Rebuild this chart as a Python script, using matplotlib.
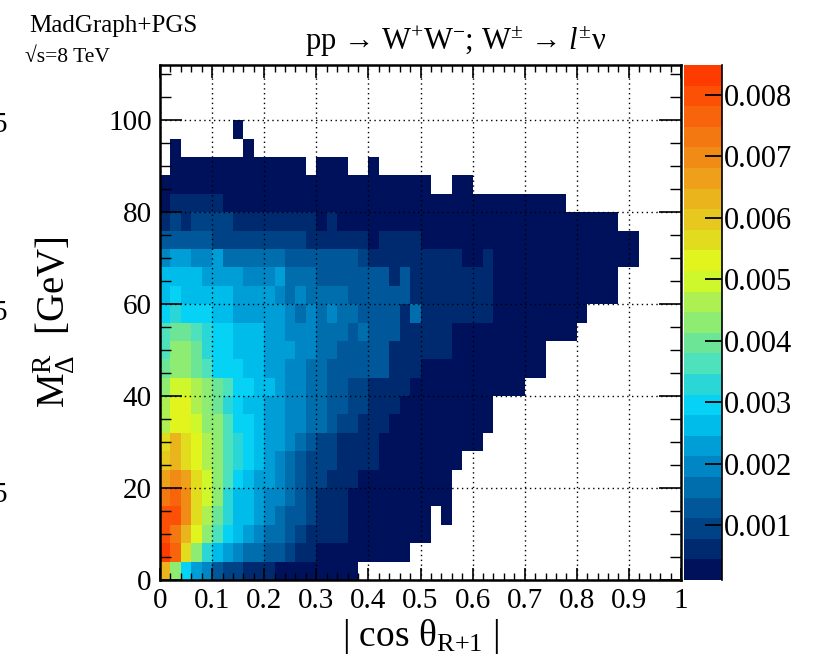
import numpy as np
import matplotlib
matplotlib.use("Agg")
import matplotlib.pyplot as plt
from matplotlib.colors import ListedColormap, BoundaryNorm
from matplotlib.ticker import MultipleLocator

plt.rcParams['font.family'] = ['Liberation Serif', 'DejaVu Serif']
plt.rcParams['mathtext.fontset'] = 'custom'
plt.rcParams['mathtext.rm'] = 'Liberation Serif'
plt.rcParams['mathtext.it'] = 'Liberation Serif:italic'
plt.rcParams['mathtext.bf'] = 'Liberation Serif:bold'

# binning: |cos theta| in 0.02 steps, M_Delta^R in 4 GeV steps
x_edges = np.linspace(0.0, 1.0, 51)
y_edges = np.arange(0, 113, 4)

# normalised bin contents in units of 1e-4, one list per M bin (lowest first)
# 0 = empty bin
row_00 = [63, 43, 30, 23, 20, 13, 9, 9, 6, 6, 6, 3, 3, 3, 3, 3, 3, 3, 3]
row_04 = [83, 77, 56, 43, 33, 26, 23, 20, 16, 16, 13, 13, 9, 6, 6, 3, 3, 3, 3, 3, 3, 3, 3, 3]
row_08 = [80, 73, 63, 53, 43, 36, 30, 26, 23, 20, 16, 16, 13, 9, 6, 6, 6, 6, 3, 3, 3, 3, 3, 3, 3, 3]
row_12 = [80, 80, 70, 56, 46, 40, 33, 26, 26, 23, 20, 16, 13, 13, 9, 6, 6, 6, 3, 3, 3, 3, 3, 3, 3, 3,
          0, 3]
row_16 = [73, 77, 70, 56, 50, 43, 33, 26, 26, 23, 20, 20, 16, 13, 9, 6, 6, 6, 3, 3, 3, 3, 3, 3, 3, 3,
          3, 3]
row_20 = [66, 70, 66, 56, 50, 43, 36, 30, 26, 23, 23, 20, 16, 13, 9, 9, 6, 6, 6, 3, 3, 3, 3, 3, 3, 3,
          3, 3]
row_24 = [60, 63, 56, 53, 46, 43, 36, 33, 30, 26, 23, 20, 16, 13, 9, 9, 9, 6, 6, 6, 6, 3, 3, 3, 3, 3,
          3, 3, 3]
row_28 = [56, 63, 56, 53, 46, 43, 36, 33, 30, 26, 23, 23, 20, 16, 13, 9, 9, 6, 6, 6, 6, 3, 3, 3, 3, 3,
          3, 3, 3, 3, 3]
row_32 = [46, 53, 53, 50, 43, 43, 36, 30, 30, 26, 23, 23, 20, 20, 16, 16, 13, 9, 9, 6, 6, 6, 3, 3, 3,
          3, 3, 3, 3, 3, 3, 3]
row_36 = [46, 53, 53, 46, 43, 40, 33, 30, 26, 26, 23, 23, 20, 20, 16, 16, 13, 13, 9, 9, 6, 6, 6, 3, 3,
          3, 3, 3, 3, 3, 3, 3]
row_40 = [43, 50, 50, 46, 43, 40, 36, 30, 30, 26, 26, 23, 20, 20, 16, 16, 13, 13, 9, 9, 6, 6, 6, 6, 3,
          3, 3, 3, 3, 3, 3, 3, 3, 3, 3]
row_44 = [40, 43, 43, 40, 36, 30, 30, 30, 26, 26, 23, 23, 20, 20, 16, 16, 13, 13, 13, 13, 13, 13, 6, 6,
          6, 3, 3, 3, 3, 3, 3, 3, 3, 3, 3, 3, 3]
row_48 = [36, 43, 43, 40, 33, 30, 30, 26, 26, 26, 23, 23, 23, 20, 20, 16, 16, 13, 13, 13, 13, 13, 6, 6,
          6, 6, 6, 6, 3, 3, 3, 3, 3, 3, 3, 3, 3]
row_52 = [36, 40, 40, 36, 33, 30, 30, 26, 26, 26, 23, 23, 20, 20, 20, 16, 16, 16, 13, 16, 13, 13, 13, 6,
          6, 6, 6, 6, 3, 3, 3, 3, 3, 3, 3, 3, 3, 3, 3, 3]
row_56 = [30, 33, 30, 30, 30, 26, 26, 23, 23, 23, 23, 23, 20, 16, 20, 16, 20, 16, 16, 13, 13, 13, 13, 6,
          16, 6, 6, 6, 6, 6, 6, 6, 3, 3, 3, 3, 3, 3, 3, 3, 3]
row_60 = [26, 30, 26, 26, 26, 26, 26, 23, 23, 23, 23, 20, 16, 20, 16, 16, 16, 16, 13, 13, 13, 13, 13, 13,
          6, 6, 6, 6, 6, 6, 6, 6, 3, 3, 3, 3, 3, 3, 3, 3, 3, 3, 3, 3]
row_64 = [26, 26, 26, 26, 23, 23, 23, 23, 20, 20, 20, 23, 16, 16, 16, 13, 13, 13, 13, 13, 13, 13, 6, 13,
          6, 6, 6, 6, 6, 6, 6, 6, 3, 3, 3, 3, 3, 3, 3, 3, 3, 3, 3, 3]
row_68 = [20, 23, 23, 20, 20, 23, 16, 16, 16, 16, 16, 16, 13, 13, 13, 13, 13, 13, 13, 9, 6, 6, 6, 6,
          6, 6, 6, 6, 6, 3, 3, 6, 3, 3, 3, 3, 3, 3, 3, 3, 3, 3, 3, 3, 3, 3]
row_72 = [13, 13, 13, 13, 13, 9, 9, 9, 9, 9, 9, 9, 9, 9, 6, 6, 6, 6, 6, 6, 3, 6, 6, 6, 6, 3, 3, 3, 3,
          3, 3, 3, 3, 3, 3, 3, 3, 3, 3, 3, 3, 3, 3, 3, 3, 3]
row_76 = [6, 9, 6, 9, 9, 9, 9, 6, 6, 6, 6, 6, 6, 6, 6, 3, 6, 3, 3, 3, 3, 3, 3, 3, 3, 3, 3, 3, 3, 3,
          3, 3, 3, 3, 3, 3, 3, 3, 3, 3, 3, 3, 3, 3]
row_80 = [3, 6, 6, 6, 6, 6, 3, 3, 3, 3, 3, 3, 3, 3, 3, 3, 3, 3, 3, 3, 3, 3, 3, 3, 3, 3, 3, 3, 3, 3,
          3, 3, 3, 3, 3, 3, 3, 3, 3]
row_84 = [3, 3, 3, 3, 3, 3, 3, 3, 3, 3, 3, 3, 3, 3, 3, 3, 3, 3, 3, 3, 3, 3, 3, 3, 3, 3, 0, 0, 3, 3]
row_88 = [0, 3, 3, 3, 3, 3, 3, 3, 3, 3, 3, 3, 3, 3, 0, 3, 3, 3, 0, 0, 3]
row_92 = [0, 3, 0, 0, 0, 0, 0, 0, 3]
row_96 = [0, 0, 0, 0, 0, 0, 0, 3]

rows = [row_00, row_04, row_08, row_12, row_16, row_20, row_24, row_28, row_32, row_36,
        row_40, row_44, row_48, row_52, row_56, row_60, row_64, row_68, row_72, row_76,
        row_80, row_84, row_88, row_92, row_96]

z = np.zeros((len(y_edges) - 1, len(x_edges) - 1))
for i, r in enumerate(rows):
    z[i, :len(r)] = r
z = np.ma.masked_equal(z, 0) * 1e-4

# 25-step palette and contour levels of the z axis
palette = ['#00115c', '#002a70', '#004286', '#00589a', '#006eac', '#0086c4', '#009ed6',
           '#00bcea', '#05d2f5', '#2ad6d6', '#4ee2bc', '#6ce696', '#8eec72', '#adf052',
           '#cef82c', '#e2f41e', '#e2dc1e', '#e6c81e', '#eab41c', '#eea01a', '#f08c16',
           '#f47812', '#f8640c', '#fb5006', '#ff3c00']
z_min, z_max = 0.00011, 0.00848
levels = np.linspace(z_min, z_max, len(palette) + 1)
cmap = ListedColormap(palette)
norm = BoundaryNorm(levels, cmap.N)

W, H = 825, 668
fig = plt.figure(figsize=(W / 100, H / 100), dpi=100)
ax = fig.add_axes([160 / W, 1 - 580 / H, 521 / W, 515 / H])
cax = fig.add_axes([684 / W, 1 - 580 / H, 38 / W, 515 / H])

mesh = ax.pcolormesh(x_edges, y_edges, z, cmap=cmap, norm=norm)
ax.set_xlim(0, 1)
ax.set_ylim(0, 112)

ax.xaxis.set_minor_locator(MultipleLocator(0.02))
ax.yaxis.set_major_locator(MultipleLocator(20))
ax.yaxis.set_minor_locator(MultipleLocator(5))
ax.set_xticks(np.linspace(0, 1, 11))
ax.set_xticklabels(['0', '0.1', '0.2', '0.3', '0.4', '0.5', '0.6', '0.7', '0.8', '0.9', '1'])

ax.tick_params(axis='both', which='both', direction='in', top=True, right=True,
               colors='black', labelsize=21)
ax.tick_params(axis='x', which='major', length=9, width=1.2, pad=6)
ax.tick_params(axis='x', which='minor', length=5, width=1.0)
ax.tick_params(axis='y', which='major', length=16, width=1.2, pad=6)
ax.tick_params(axis='y', which='minor', length=8, width=1.0)
ax.grid(True, which='major', color='black', linestyle=(0, (1, 2.5)), linewidth=1.0)
ax.set_axisbelow(False)
for s in ax.spines.values():
    s.set_linewidth(1.8)

ax.set_xlabel(r'| cos $\mathrm{\theta}_{\mathrm{R{+}1}}$ |', fontsize=27, labelpad=2)
fig.text(54 / W, 1 - 322 / H, r'$\mathrm{M}_{\Delta}^{\mathrm{R}}$  [GeV]', fontsize=28,
         rotation=90, ha='center', va='center')

cb = fig.colorbar(mesh, cax=cax, ticks=[0.001, 0.002, 0.003, 0.004,
                                        0.005, 0.006, 0.007, 0.008])
cb.ax.set_yticklabels(['0.001', '0.002', '0.003', '0.004', '0.005', '0.006', '0.007', '0.008'])
cb.outline.set_visible(False)
cb.ax.tick_params(direction='in', length=12, width=1.3, labelsize=22, pad=1)
cb.ax.minorticks_off()
cb.ax.plot([1, 1], [0, 1], transform=cb.ax.transAxes, color='black', lw=1.2, clip_on=False)

fig.text(456 / W, 1 - 50 / H,
         r'pp → W$^{+}$W$^{-}$; W$^{\pm}$ → $l^{\pm}$ν',
         fontsize=22, ha='center', va='baseline')
fig.text(29 / W, 1 - 32 / H, 'MadGraph+PGS', fontsize=18, ha='left', va='baseline')
fig.text(25 / W, 1 - 62 / H, '√s=8 TeV', fontsize=15.5, ha='left', va='baseline')

# cut-off tick labels from the neighbouring panel
for yv in [125, 313, 495]:
    fig.text(7 / W, 1 - yv / H, '5', fontsize=21, ha='right', va='center')

fig.savefig('out.png', dpi=100)
